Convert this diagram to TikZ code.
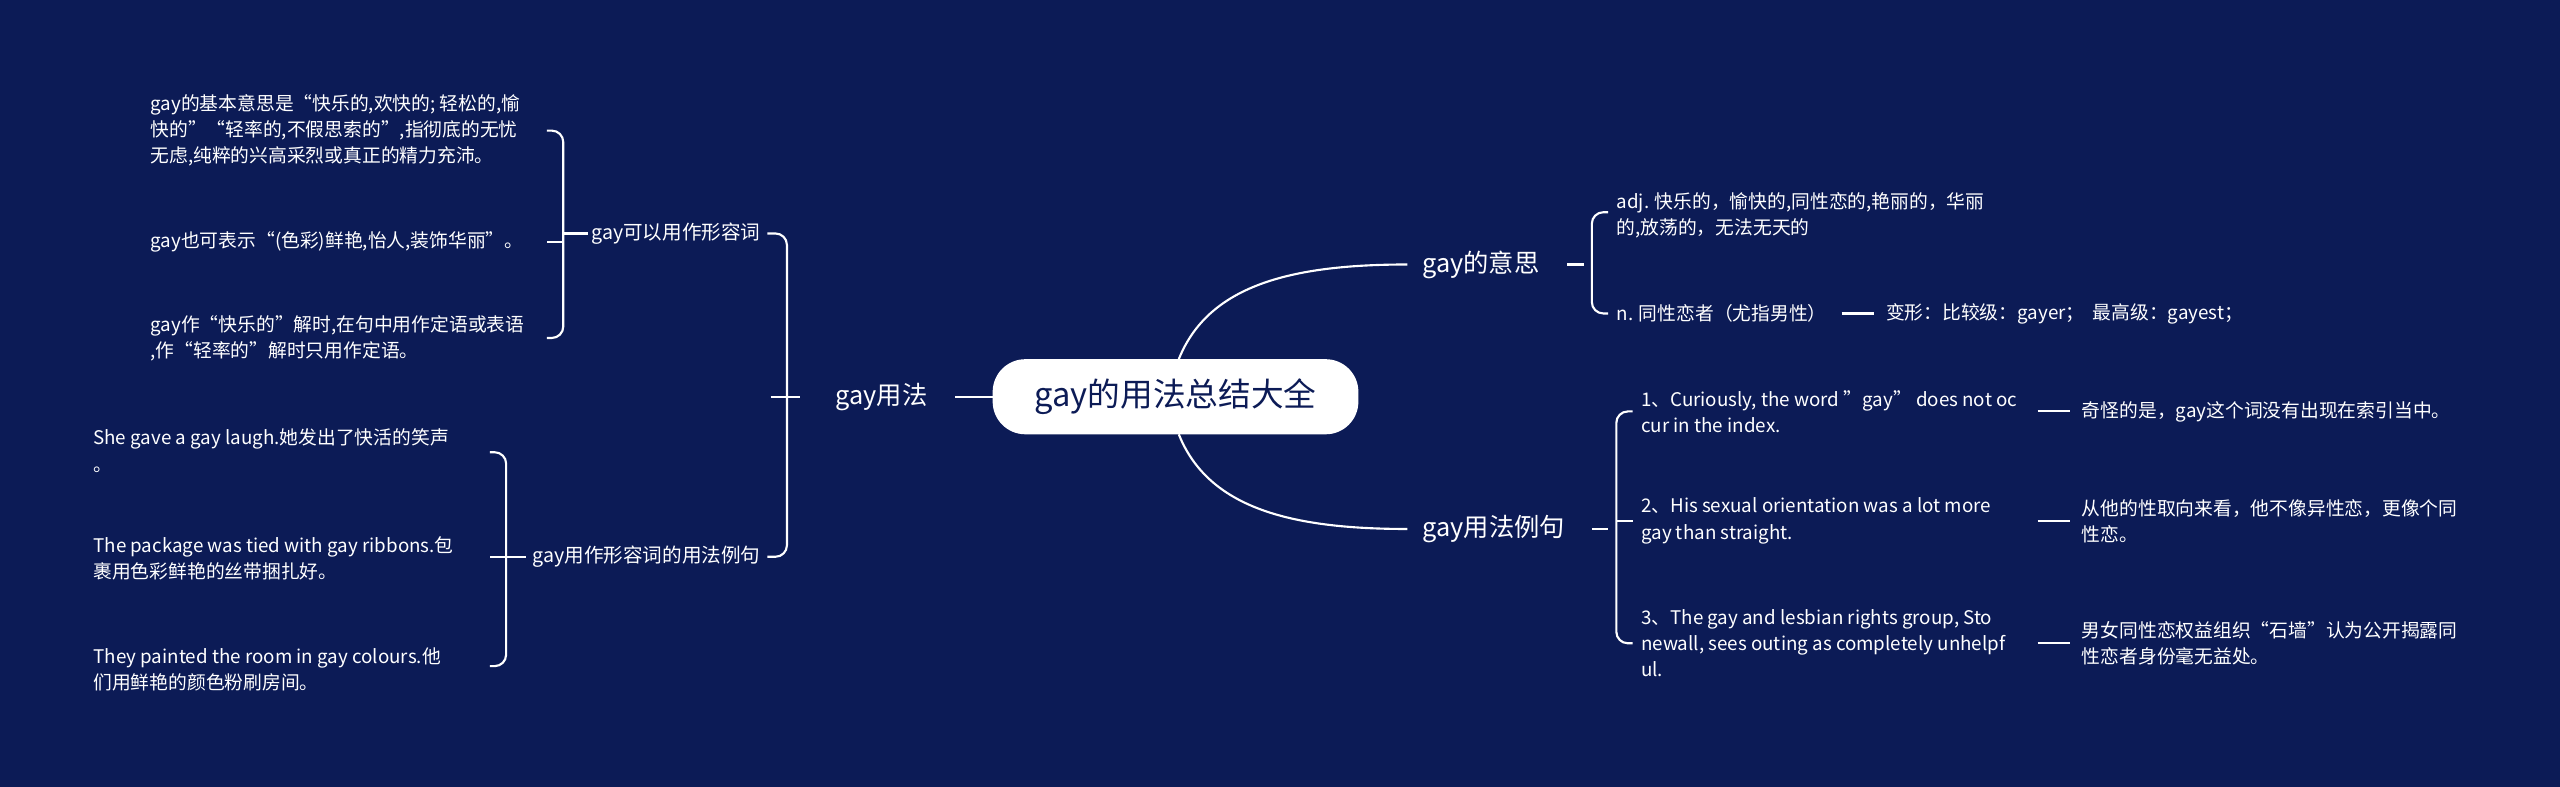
\documentclass[tikz,border=0pt]{standalone}
\usepackage{fontspec}
\setmainfont{Noto Sans CJK SC}
\definecolor{bg}{HTML}{0C1B56}
\begin{document}
\begin{tikzpicture}[x=1pt,y=-1pt,
  lk/.style={draw=white,line width=1.3pt,rounded corners=7pt},
  cv/.style={draw=white,line width=1.3pt},
  leaf/.style={text=white,font=\fontsize{11.5}{16}\selectfont,align=left,inner sep=0pt},
  leafr/.style={leaf,anchor=west},
  leafl/.style={leaf,anchor=west},
  mid/.style={text=white,font=\fontsize{12}{16}\selectfont,inner sep=0pt},
  main/.style={text=white,font=\fontsize{15.5}{18}\selectfont,inner sep=0pt}]
\fill[bg] (0,0) rectangle (1568,482);
\useasboundingbox (0,0) rectangle (1568,482);
% center
\node[fill=white,rounded corners=20pt,minimum width=224pt,minimum height=46pt,text=bg,font=\fontsize{20}{24}\selectfont] (c) at (720,243) {gay的用法总结大全};
% right main
\node[main] (m1) at (907,162) {gay的意思};
\node[main] (m2) at (915,324) {gay用法例句};
\draw[cv] (722,220) .. controls (740,175) and (790,162) .. (862,162);
\draw[cv] (722,266) .. controls (740,311) and (790,324) .. (862,324);
% m1 children
\draw[cv] (960,162) -- (970,162);
\draw[lk] (985,130) -- (975,130) -- (975,192) -- (985,192);
\node[leafr] (a1) at (990,132) {adj. 快乐的，愉快的,同性恋的,艳丽的，华丽\\的,放荡的，无法无天的};
\node[leafr] (a2) at (990,192) {n. 同性恋者（尤指男性）};
\draw[cv] (1128,192) -- (1148,192);
\node[leafr] (a3) at (1155,192) {变形：比较级：gayer；\ \ 最高级：gayest；};
% m2 children
\draw[cv] (975,324) -- (985,324);
\draw[lk] (1000,252) -- (990,252) -- (990,394) -- (1000,394);
\draw[cv] (990,319) -- (1000,319);
\node[leafr] (b1) at (1005,252) {1、Curiously, the word "gay" does not oc\\cur in the index.};
\node[leafr] (b2) at (1005,319) {2、His sexual orientation was a lot more\\gay than straight.};
\node[leafr] (b3) at (1005,394) {3、The gay and lesbian rights group, Sto\\newall, sees outing as completely unhelpf\\ul.};
\draw[cv] (1248,252) -- (1268,252);
\draw[cv] (1248,319) -- (1268,319);
\draw[cv] (1248,394) -- (1268,394);
\node[leafr] (c1) at (1275,252) {奇怪的是，gay这个词没有出现在索引当中。};
\node[leafr] (c2) at (1275,319) {从他的性取向来看，他不像异性恋，更像个同\\性恋。};
\node[leafr] (c3) at (1275,394) {男女同性恋权益组织“石墙”认为公开揭露同\\性恋者身份毫无益处。};
% left main
\draw[cv] (585,243) -- (608,243);
\node[main] (l) at (540,243) {gay用法};
\draw[cv] (472,243) -- (490,243);
\draw[lk] (470,143) -- (482,143) -- (482,341) -- (470,341);
\node[mid] (l1) at (414,143) {gay可以用作形容词};
\node[mid] (l2) at (396,341) {gay用作形容词的用法例句};
% l1 children
\draw[cv] (345,143) -- (360,143);
\draw[lk] (335,80) -- (345,80) -- (345,207) -- (335,207);
\draw[cv] (345,148) -- (335,148);
\node[leafl] (d1) at (92,80) {gay的基本意思是“快乐的,欢快的; 轻松的,愉\\快的”“轻率的,不假思索的”,指彻底的无忧\\无虑,纯粹的兴高采烈或真正的精力充沛。};
\node[leafl] (d2) at (92,148) {gay也可表示“(色彩)鲜艳,怡人,装饰华丽”。};
\node[leafl] (d3) at (92,207) {gay作“快乐的”解时,在句中用作定语或表语\\,作“轻率的”解时只用作定语。};
% l2 children
\draw[cv] (310,341) -- (322,341);
\draw[lk] (300,277) -- (310,277) -- (310,408) -- (300,408);
\draw[cv] (310,341) -- (300,341);
\node[leafl] (e1) at (57,276) {She gave a gay laugh.她发出了快活的笑声\\。};
\node[leafl] (e2) at (57,342) {The package was tied with gay ribbons.包\\裹用色彩鲜艳的丝带捆扎好。};
\node[leafl] (e3) at (57,410) {They painted the room in gay colours.他\\们用鲜艳的颜色粉刷房间。};
\end{tikzpicture}
\end{document}
